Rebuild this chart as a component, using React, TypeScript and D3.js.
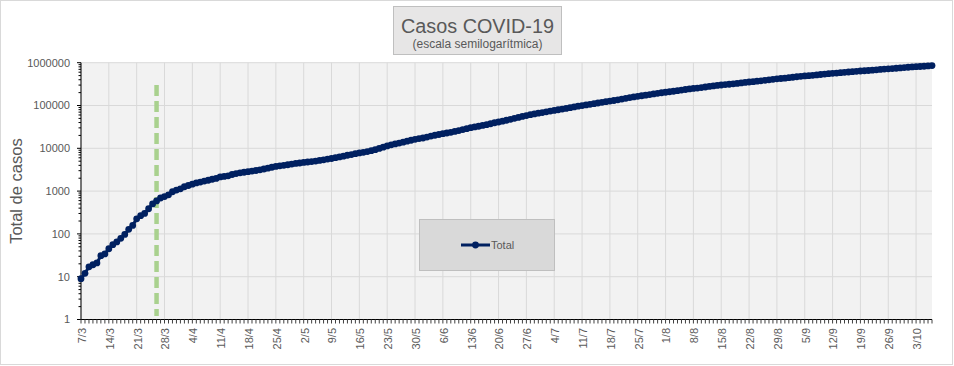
import React from "react";
import * as d3 from "d3";

// daily totals, 7/3 .. 7/10
const startDate = new Date(Date.UTC(2020, 2, 7));
const totalCases = [
  // marzo (7-31)
  9, 12, 17, 19, 21, 31, 34, 45, 56, 65, 79, 97, 128, 158, 225, 266, 301, 387, 502, 589, 690, 745, 820, 966, 1054,
  // abril
  1133, 1265, 1353, 1451, 1554, 1628, 1715, 1795, 1894, 1975, 2142, 2208, 2277, 2443, 2571, 2669, 2758, 2839, 2941, 3031,
  3144, 3288, 3435, 3607, 3780, 3892, 4003, 4127, 4285, 4428,
  // mayo
  4532, 4681, 4783, 4887, 5020, 5208, 5371, 5611, 5776, 6034, 6278, 6563, 6879, 7134, 7479, 7805, 8068, 8371, 8809, 9283,
  9931, 10649, 11353, 12076, 12628, 13228, 13933, 14702, 15419, 16214, 16851,
  // junio
  17415, 18319, 19268, 20197, 21037, 22020, 22794, 23620, 24761, 25987, 27373, 28764, 30295, 31577, 32785, 34159, 35552,
  37510, 39570, 41204, 43000, 45200, 47600, 50100, 52700, 55500, 58300, 61000, 63500, 66000,
  // julio
  68500, 71200, 74000, 76800, 79500, 82400, 85500, 89000, 92700, 96300, 99800, 103200, 106800, 110500, 114500, 118500,
  122600, 126800, 131000, 135600, 141000, 146800, 152800, 158500, 163800, 169000, 174500, 180300, 186200, 192300, 198400,
  // agosto
  204000, 209800, 215500, 222000, 229000, 236500, 244000, 250500, 256000, 263000, 270500, 278500, 286500, 294000, 301500,
  308000, 314000, 321000, 328500, 337000, 345500, 354000, 361000, 369500, 378000, 388000, 398000, 409000, 419000, 427000,
  436000,
  // septiembre
  446000, 457000, 469000, 480000, 490000, 498000, 507000, 517500, 530000, 542000, 553500, 564000, 573500, 583500, 595000,
  606500, 618500, 630000, 639500, 648500, 658000, 670000, 682500, 695500, 708500, 720000, 729500, 741000, 754000, 768000,
  // octubre (1-7)
  782000, 796000, 807000, 816000, 827000, 841000, 858000,
];

const weekLabels = [
  "7/3", "14/3", "21/3", "28/3", "4/4", "11/4", "18/4", "25/4", "2/5", "9/5", "16/5", "23/5", "30/5", "6/6", "13/6",
  "20/6", "27/6", "4/7", "11/7", "18/7", "25/7", "1/8", "8/8", "15/8", "22/8", "29/8", "5/9", "12/9", "19/9", "26/9",
  "3/10",
];

const yTickValues = [1, 10, 100, 1000, 10000, 100000, 1000000];

// green dashed reference line
const markerDate = new Date(Date.UTC(2020, 2, 26));
const markerRange = [1.2, 300000];

const W = 954;
const H = 366;

export default function App() {
  const dates = totalCases.map((_, i) => d3.utcDay.offset(startDate, i));
  const endDate = dates[dates.length - 1];

  const x = d3.scaleUtc().domain([startDate, endDate]).range([81, 932]);
  const y = d3.scaleLog().domain([1, 1000000]).range([319.5, 62.7]);

  const data = dates.map((d, i) => ({ date: d, value: totalCases[i] }));
  const line = d3
    .line<{ date: Date; value: number }>()
    .x((d) => x(d.date))
    .y((d) => y(d.value));

  const weekDates = weekLabels.map((_, i) => d3.utcDay.offset(startDate, i * 7));
  const dailyTicks = d3.utcDay.range(startDate, d3.utcDay.offset(endDate, 1));
  const minorY = y.ticks();

  const grey = "#595959";
  const font = "'Liberation Sans', Arial, sans-serif";
  const [x0, x1] = x.range();
  const [y0, y1] = y.range();

  return (
    <div style={{ position: "absolute", left: 0, top: 0 }}>
      <svg width={W} height={H} style={{ display: "block", fontFamily: font }}>
        <rect x={0} y={0} width={W} height={H} fill="#fff" />
        <rect x={0.5} y={0.5} width={952} height={364} fill="none" stroke="#D9D9D9" />

        {/* title */}
        <rect x={393.5} y={6.5} width={168} height={48} fill="#E7E6E6" stroke="#BFBFBF" />
        <text x={477.5} y={33} textAnchor="middle" fontSize={20} fill={grey} textLength={153} lengthAdjust="spacingAndGlyphs">
          Casos COVID-19
        </text>
        <text x={477.5} y={48} textAnchor="middle" fontSize={12} fill={grey}>
          (escala semilogarítmica)
        </text>

        {/* plot area */}
        <rect x={x0} y={y1} width={x1 - x0} height={y0 - y1} fill="#F2F2F2" />
        {yTickValues.map((v) => (
          <line key={"gy" + v} x1={x0} x2={x1} y1={y(v)} y2={y(v)} stroke="#D9D9D9" />
        ))}
        {weekDates.map((d, i) => (
          <line key={"gx" + i} x1={x(d)} x2={x(d)} y1={y1} y2={y0} stroke="#D9D9D9" />
        ))}

        {/* dashed marker */}
        <line
          x1={x(markerDate)}
          x2={x(markerDate)}
          y1={y(markerRange[1])}
          y2={y(markerRange[0])}
          stroke="#A9D18E"
          strokeWidth={4.5}
          strokeDasharray="11 5"
        />

        {/* y axis */}
        <line x1={x0} x2={x0} y1={y1} y2={y0} stroke="#000" />
        {minorY.map((v, i) => {
          const major = yTickValues.includes(v);
          return (
            <line key={"ty" + i} x1={x0 - (major ? 4 : 2.5)} x2={x0} y1={y(v)} y2={y(v)} stroke="#000" />
          );
        })}
        {yTickValues.map((v) => (
          <text key={"ly" + v} x={70} y={y(v)} dy="0.35em" textAnchor="end" fontSize={11} fill={grey}>
            {d3.format("d")(v)}
          </text>
        ))}
        <text
          transform={`translate(21.5,${(y0 + y1) / 2}) rotate(-90)`}
          textAnchor="middle"
          fontSize={16.5}
          fill={grey}
        >
          Total de casos
        </text>

        {/* x axis */}
        <line x1={x0} x2={x1} y1={y0} y2={y0} stroke="#000" />
        {dailyTicks.map((d, i) => (
          <line key={"tx" + i} x1={x(d)} x2={x(d)} y1={y0} y2={y0 + 4} stroke="#404040" />
        ))}
        {weekDates.map((d, i) => (
          <text
            key={"lx" + i}
            transform={`translate(${x(d) + 1},328) rotate(-90)`}
            dy="0.35em"
            textAnchor="end"
            fontSize={11}
            fill={grey}
          >
            {weekLabels[i]}
          </text>
        ))}

        {/* series */}
        <path d={line(data) || ""} fill="none" stroke="#002060" strokeWidth={3} strokeLinejoin="round" />
        {data.map((d, i) => (
          <circle key={"c" + i} cx={x(d.date)} cy={y(d.value)} r={3.4} fill="#002060" />
        ))}

        {/* legend */}
        <rect x={419.5} y={219.5} width={135} height={51} fill="#D9D9D9" stroke="#BFBFBF" />
        <line x1={461} x2={490} y1={245} y2={245} stroke="#002060" strokeWidth={3} />
        <circle cx={475.5} cy={245} r={3.4} fill="#002060" />
        <text x={491} y={249} fontSize={11} fill={grey}>
          Total
        </text>
      </svg>
    </div>
  );
}
